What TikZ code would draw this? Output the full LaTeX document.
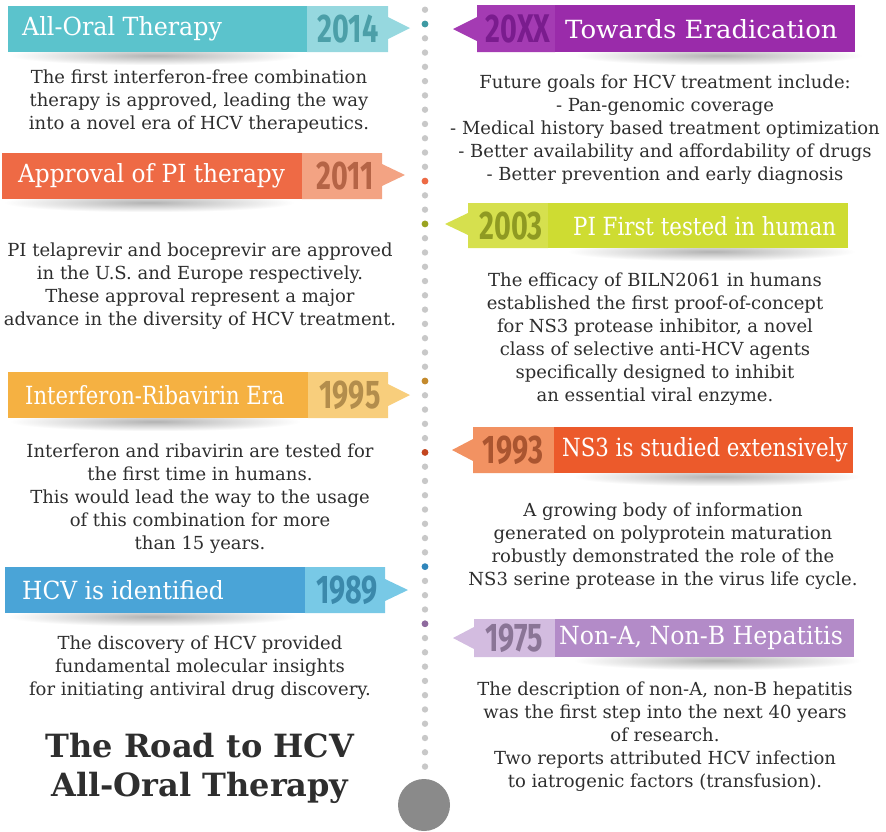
\documentclass[tikz,border=0pt]{standalone}
\usepackage{fontspec}
\setmainfont{DejaVu Serif}
\newfontfamily\yearfont{Fira Sans}
\usetikzlibrary{fadings}

% banner colours: A = title part, B = year part, Y = year text, D = dot
\definecolor{tealA}{HTML}{5BC3CC}\definecolor{tealB}{HTML}{96D8DF}\definecolor{tealY}{HTML}{4C9FA8}\definecolor{tealD}{HTML}{3E9AA3}
\definecolor{purA}{HTML}{9A2BAA}\definecolor{purB}{HTML}{A43BB3}\definecolor{purY}{HTML}{7A1C8E}
\definecolor{orgA}{HTML}{EE6A45}\definecolor{orgB}{HTML}{F3A383}\definecolor{orgY}{HTML}{B56446}
\definecolor{limeA}{HTML}{CEDC32}\definecolor{limeB}{HTML}{D6E04E}\definecolor{limeY}{HTML}{8F9A22}\definecolor{limeD}{HTML}{9AA321}
\definecolor{goldA}{HTML}{F5B142}\definecolor{goldB}{HTML}{F8CE7C}\definecolor{goldY}{HTML}{B38D4C}\definecolor{goldD}{HTML}{C48A2C}
\definecolor{redA}{HTML}{EC5A2B}\definecolor{redB}{HTML}{F29262}\definecolor{redY}{HTML}{AA5530}\definecolor{redD}{HTML}{C4451E}
\definecolor{blueA}{HTML}{4AA4D7}\definecolor{blueB}{HTML}{78C9E6}\definecolor{blueY}{HTML}{3B89AB}\definecolor{blueD}{HTML}{2F86BB}
\definecolor{lavA}{HTML}{B38BC8}\definecolor{lavB}{HTML}{D3BCE0}\definecolor{lavY}{HTML}{8A7596}\definecolor{lavD}{HTML}{8E6A9E}
\definecolor{dotgray}{HTML}{C8C8C8}
\definecolor{bigdot}{HTML}{8A8A8A}
\definecolor{bodytext}{HTML}{2E2E2E}

\tikzfading[name=softshadow, inner color=transparent!25, outer color=transparent!100]

\tikzset{
  shadowblob/.style={fill=black, opacity=0.4, path fading=softshadow},
  heading/.style={text=white, inner sep=0pt, anchor=west, font=\fontsize{25}{25}\selectfont},
  year/.style={inner sep=0pt, font=\yearfont\bfseries\fontsize{40}{40}\selectfont},
  body/.style={text=bodytext, align=center, inner sep=0pt, font=\fontsize{18}{23}\selectfont}
}

\newcommand{\yr}[1]{\scalebox{0.72}[1]{#1}}
\newcommand{\hd}[2]{\scalebox{#1}[1]{#2}}

\begin{document}
\begin{tikzpicture}[x=1pt,y=-1pt]
\useasboundingbox (0,0) rectangle (886,831);

% dotted time line
\foreach \i in {-1,...,52}
  \fill[dotgray] (425,{24+\i*14.28}) circle (3.2);
\fill[tealD] (425,24) circle (3.4);
\fill[orgA] (425,{24+11*14.28}) circle (3.4);
\fill[limeD] (425,{24+14*14.28}) circle (3.4);
\fill[goldD] (425,{24+25*14.28}) circle (3.4);
\fill[redD] (425,{24+30*14.28}) circle (3.4);
\fill[blueD] (425,{24+38*14.28}) circle (3.4);
\fill[lavD] (425,{24+42*14.28}) circle (3.4);
\fill[bigdot] (424,805) circle (26);

% 2014
\fill[shadowblob] (10,46) rectangle (300,65);
\fill[tealA] (8,6) rectangle (307,52);
\fill[tealB] (307,6) -| (388,17) -- (410,28) -- (388,39) |- (307,52) -- cycle;
\node[heading] (ttl14) at (22,29) {\hd{0.95}{All-Oral Therapy}};
\node[year,text=tealY] (yr14) at (348,29) {\yr{2014}};
\node[body] (txt14) at (199,102) {The first interferon-free combination\\therapy is approved, leading the way\\into a novel era of HCV therapeutics.};

% 20XX
\fill[shadowblob] (575,46) rectangle (862,65);
\fill[purB] (555,5) -| (477,17) -- (453,29) -- (477,41) |- (555,52) -- cycle;
\fill[purA] (555,5) rectangle (855,52);
\node[heading] (ttlXX) at (565,29) {\hd{1.04}{Towards Eradication}};
\node[year,text=purY] (yrXX) at (518,29) {\yr{20XX}};
\node[body] (txtXX) at (665,130) {Future goals for HCV treatment include:\\- Pan-genomic coverage\\- Medical history based treatment optimization\\- Better availability and affordability of drugs\\- Better prevention and early diagnosis};

% 2011
\fill[shadowblob] (4,193) rectangle (294,212);
\fill[orgA] (2,153) rectangle (302,199);
\fill[orgB] (302,153) -| (382,164) -- (405,175) -- (382,186) |- (302,199) -- cycle;
\node[heading] (ttl11) at (18,176) {\hd{0.93}{Approval of PI therapy}};
\node[year,text=orgY] (yr11) at (345,176) {\yr{2011}};
\node[body] (txt11) at (200,286) {PI telaprevir and boceprevir are approved\\in the U.S. and Europe respectively.\\These approval represent a major\\advance in the diversity of HCV treatment.};

% 2003
\fill[shadowblob] (568,242) rectangle (855,261);
\fill[limeB] (548,203) -| (468,213) -- (445,224) -- (468,235) |- (548,248) -- cycle;
\fill[limeA] (548,203) rectangle (848,248);
\node[heading] (ttl03) at (573,226) {\hd{0.853}{PI First tested in human}};
\node[year,text=limeY] (yr03) at (511,226) {\yr{2003}};
\node[body] (txt03) at (655,339) {The efficacy of BILN2061 in humans\\established the first proof-of-concept\\for NS3 protease inhibitor, a novel\\class of selective anti-HCV agents\\specifically designed to inhibit\\an essential viral enzyme.};

% 1995
\fill[shadowblob] (10,412) rectangle (300,431);
\fill[goldA] (8,372) rectangle (308,418);
\fill[goldB] (308,372) -| (388,384) -- (410,395) -- (388,406) |- (308,418) -- cycle;
\node[heading] (ttl95) at (25,395) {\hd{0.844}{Interferon-Ribavirin Era}};
\node[year,text=goldY] (yr95) at (350,395) {\yr{1995}};
\node[body] (txt95) at (200,499) {Interferon and ribavirin are tested for\\the first time in humans.\\This would lead the way to the usage\\of this combination for more\\than 15 years.};

% 1993
\fill[shadowblob] (573,467) rectangle (860,486);
\fill[redB] (554,427) -| (473,439) -- (452,450) -- (473,461) |- (554,473) -- cycle;
\fill[redA] (554,427) rectangle (853,473);
\node[heading] (ttl93) at (562,450) {\hd{0.852}{NS3 is studied extensively}};
\node[year,text=redY] (yr93) at (513,450) {\yr{1993}};
\node[body] (txt93) at (663,546) {A growing body of information\\generated on polyprotein maturation\\robustly demonstrated the role of the\\NS3 serine protease in the virus life cycle.};

% 1989
\fill[shadowblob] (7,607) rectangle (297,626);
\fill[blueA] (5,567) rectangle (305,613);
\fill[blueB] (305,567) -| (385,579) -- (408,590) -- (385,601) |- (305,613) -- cycle;
\node[heading] (ttl89) at (22,590) {\hd{0.933}{HCV is identified}};
\node[year,text=blueY] (yr89) at (347,590) {\yr{1989}};
\node[body] (txt89) at (200,668) {The discovery of HCV provided\\fundamental molecular insights\\for initiating antiviral drug discovery.};

% 1975
\fill[shadowblob] (574,651) rectangle (861,670);
\fill[lavB] (555,619) -| (474,627) -- (453,638) -- (474,649) |- (555,657) -- cycle;
\fill[lavA] (555,619) rectangle (854,657);
\node[heading] (ttl75) at (559,638) {\hd{0.947}{Non-A, Non-B Hepatitis}};
\node[year,text=lavY] (yr75) at (514,638) {\yr{1975}};
\node[body] (txt75) at (665,737) {The description of non-A, non-B hepatitis\\was the first step into the next 40 years\\of research.\\Two reports attributed HCV infection\\to iatrogenic factors (transfusion).};

% title
\node[text=bodytext, align=center, inner sep=0pt, font=\bfseries\fontsize{32}{39}\selectfont] (road) at (200,768) {The Road to HCV\\All-Oral Therapy};
\end{tikzpicture}
\end{document}
